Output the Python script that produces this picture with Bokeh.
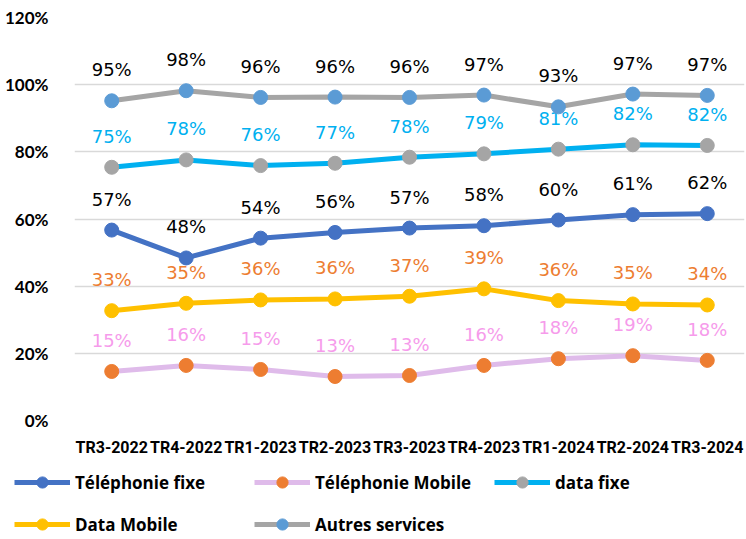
from bokeh.plotting import figure
from bokeh.layouts import column
from bokeh.models import Range1d, FixedTicker, PrintfTickFormatter, Legend, LegendItem, ColumnDataSource
from bokeh.core.properties import value
from bokeh.embed import file_html
from bokeh.resources import INLINE

quarters = ["TR3-2022", "TR4-2022", "TR1-2023", "TR2-2023", "TR3-2023",
            "TR4-2023", "TR1-2024", "TR2-2024", "TR3-2024"]
telephonie_fixe = [56.7, 48.4, 54.3, 56.0, 57.3, 58.0, 59.7, 61.3, 61.6]
telephonie_mobile = [14.6, 16.4, 15.2, 13.1, 13.4, 16.4, 18.4, 19.3, 17.9]
data_fixe = [75.4, 77.6, 75.9, 76.6, 78.4, 79.4, 80.8, 82.1, 81.9]
data_mobile = [32.7, 34.9, 35.9, 36.2, 37.0, 39.2, 35.7, 34.7, 34.4]
autres_services = [95.2, 98.2, 96.2, 96.3, 96.2, 96.9, 93.4, 97.2, 96.8]
y_ticks = [0, 20, 40, 60, 80, 100, 120]

series = [
    ("Téléphonie fixe", telephonie_fixe, "#4472C4", "#4472C4", "#000000"),
    ("Téléphonie Mobile", telephonie_mobile, "#DFBBEA", "#ED7D31", "#F69BEB"),
    ("data fixe", data_fixe, "#00B0F0", "#A5A5A5", "#00B0F0"),
    ("Data Mobile", data_mobile, "#FFC000", "#FFC000", "#ED7D31"),
    ("Autres services", autres_services, "#A5A5A5", "#5B9BD5", "#000000"),
]

p = figure(frame_width=670, frame_height=403, output_backend="svg", toolbar_location=None,
           x_range=quarters, y_range=Range1d(0, 120), frame_align=False,
           min_border_left=74, min_border_right=2, min_border_top=17, min_border_bottom=40)
p.outline_line_color = None
p.background_fill_color = "white"
p.border_fill_color = "white"

p.xgrid.grid_line_color = None
p.ygrid.grid_line_color = "#D9D9D9"
p.ygrid.grid_line_width = 1.5

p.yaxis.ticker = FixedTicker(ticks=y_ticks)
p.yaxis.formatter = PrintfTickFormatter(format="%d%%")

for ax in (p.xaxis[0], p.yaxis[0]):
    ax.axis_line_color = None
    ax.major_tick_line_color = None
    ax.minor_tick_line_color = None
    ax.major_label_text_font = "Lato"
    ax.major_label_text_font_style = "bold"
    ax.major_label_text_color = "#000000"
p.yaxis.major_label_text_font_size = "17px"
p.yaxis.major_label_standoff = 20
p.xaxis.major_label_text_font = "Roboto"
p.xaxis.major_label_text_font_size = "16px"
p.xaxis.major_label_standoff = 11

sources = []
for name, vals, lc, mc, tc in series:
    src = ColumnDataSource(dict(x=quarters, i=list(range(len(quarters))), y=vals,
                                t=[f"{round(v)}%" for v in vals]))
    sources.append(src)
    p.line("x", "y", source=src, line_color=lc, line_width=5)
    p.scatter("x", "y", source=src, size=14, fill_color=mc, line_color=mc)
    p.text("x", "y", text="t", source=src, y_offset=-31, text_align="center",
           text_baseline="middle", text_color=tc, text_font=value("DejaVu Sans"),
           text_font_size="18px")

# legend strip below the chart (series renderers kept outside its view)
leg = figure(width=746, height=79, output_backend="svg", toolbar_location=None,
             x_axis_type=None, y_axis_type=None, x_range=Range1d(-20, -19), y_range=Range1d(-20, -19),
             frame_align=False,
             min_border_left=0, min_border_right=0, min_border_top=0, min_border_bottom=0)
leg.outline_line_color = None
leg.border_fill_color = "white"
leg.background_fill_color = "white"
leg.xgrid.grid_line_color = None
leg.ygrid.grid_line_color = None
items = []
for (name, vals, lc, mc, tc), src in zip(series, sources):
    lr = leg.line("i", "y", source=src, line_color=lc, line_width=5)
    sr = leg.scatter("i", "y", source=src, size=14, fill_color=mc, line_color=mc)
    items.append(LegendItem(label=name, renderers=[lr, sr]))

legend = Legend(items=items, ncols=3, orientation="horizontal", location=(14, 1),
                glyph_width=56, glyph_height=28, label_height=28, label_width=165,
                label_standoff=5, spacing=14, padding=0, margin=0,
                border_line_color=None, background_fill_alpha=0,
                label_text_font="Open Sans", label_text_font_style="bold",
                label_text_font_size="17px", label_text_color="#000000")
leg.add_layout(legend)

layout = column(p, leg, spacing=0)
open("out.html", "w").write(file_html(layout, INLINE))
